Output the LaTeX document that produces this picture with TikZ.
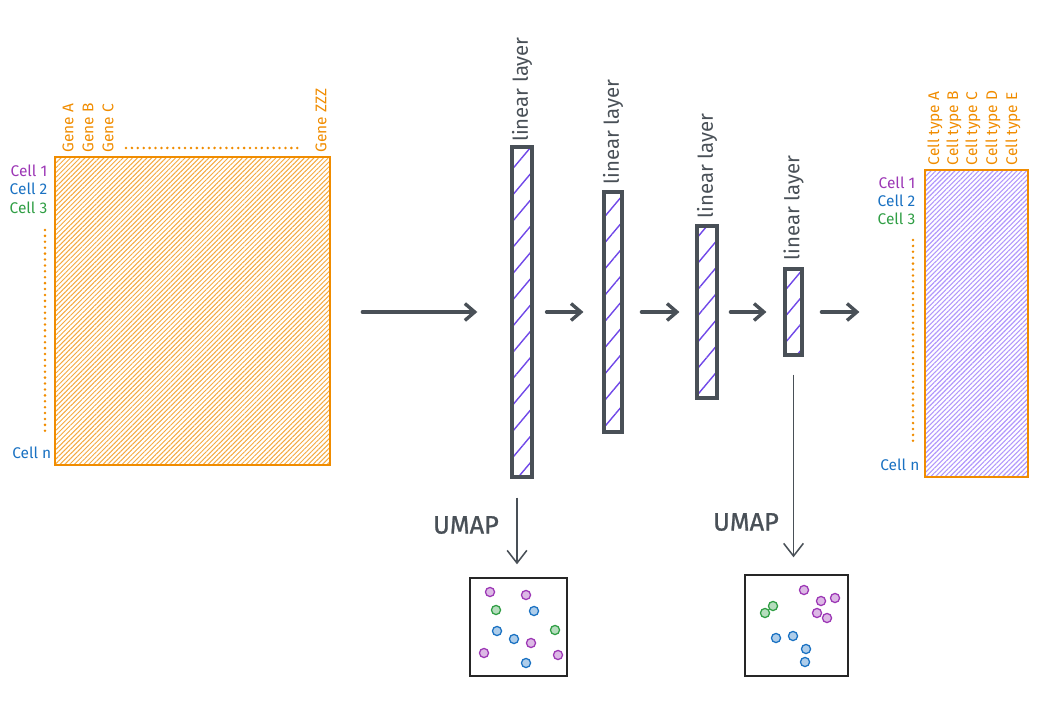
\documentclass[tikz,border=0pt]{standalone}
\usepackage{fontspec}
\setmainfont{Fira Sans}
\usetikzlibrary{arrows.meta,patterns.meta,positioning,calc}
\definecolor{ink}{HTML}{495057}
\definecolor{orng}{HTML}{F08C00}
\definecolor{violet}{HTML}{7048E8}
\definecolor{lilac}{HTML}{B197FC}
\definecolor{cellone}{HTML}{9C36B5}
\definecolor{celltwo}{HTML}{1971C2}
\definecolor{cellthree}{HTML}{2F9E44}

\tikzset{
  matrixbox/.style={draw=orng, line width=1pt, inner sep=0pt},
  layerbox/.style={draw=ink, line width=2.2pt, inner sep=0pt,
    pattern={Lines[angle=50,distance=12pt,line width=1pt]}, pattern color=violet},
  flow/.style={draw=ink, line width=2.6pt, line cap=round,
    -{Straight Barb[length=7pt,width=12pt,line width=2.4pt]}},
  umaparrow/.style={draw=ink, line width=1.1pt,
    -{Straight Barb[length=9pt,width=14pt]}},
  layerlabel/.style={rotate=90, anchor=west, text=ink, font=\fontsize{14.5}{14.5}\selectfont, inner sep=1pt},
  genelabel/.style={rotate=90, anchor=west, text=orng, font=\fontsize{11}{11}\selectfont, inner sep=1pt},
  celllabel/.style={anchor=east, font=\fontsize{11}{11}\selectfont, inner sep=1pt},
  umaplabel/.style={text=ink, font=\fontsize{18}{18}\selectfont\addfontfeatures{FakeBold=1}},
  dotrow/.style={orng, line width=2pt, dash pattern=on 0pt off 4.2pt, line cap=round},
  plotbox/.style={draw=black!85, line width=1pt, inner sep=0pt},
  dot/.style={circle, draw=#1, fill=#1!35, line width=0.9pt, minimum size=6.5pt, inner sep=0pt}
}

\begin{document}
\begin{tikzpicture}[x=0.025cm, y=-0.025cm]
  \useasboundingbox (0,0) rectangle (1044,701);

  % input expression matrix
  \node[matrixbox, minimum width=275*0.025cm, minimum height=308*0.025cm,
        pattern={Lines[angle=45,distance=2.4pt,line width=0.7pt]}, pattern color=orng!75]
        (genes) at (192.5,311) {};
  \node[genelabel] (gA) at (68,154) {Gene A};
  \node[genelabel] (gB) at (88,154) {Gene B};
  \node[genelabel] (gC) at (108,154) {Gene C};
  \node[genelabel] (gZ) at (321,154) {Gene ZZZ};
  \draw[dotrow] (126,148) -- (302,148);
  \node[celllabel, text=cellone] (c1) at (49,171) {Cell 1};
  \node[celllabel, text=celltwo] (c2) at (49,189) {Cell 2};
  \node[celllabel, text=cellthree] (c3) at (49,208) {Cell 3};
  \draw[dotrow] (45,230) -- (45,434);
  \node[celllabel, text=celltwo] (cn) at (53,453) {Cell n};

  % linear layers
  \node[layerbox, minimum width=20*0.025cm, minimum height=330*0.025cm] (l1) at (522,312) {};
  \node[layerbox, minimum width=18*0.025cm, minimum height=240*0.025cm] (l2) at (613,312) {};
  \node[layerbox, minimum width=20*0.025cm, minimum height=172*0.025cm] (l3) at (707,312) {};
  \node[layerbox, minimum width=17*0.025cm, minimum height=86*0.025cm] (l4) at (793.5,312) {};
  \node[layerlabel] at ([yshift=2pt]l1.north) {linear layer};
  \node[layerlabel] at ([yshift=3pt]l2.north) {linear layer};
  \node[layerlabel] at ([yshift=3pt]l3.north) {linear layer};
  \node[layerlabel] at ([yshift=4pt]l4.north) {linear layer};

  % output matrix
  \node[matrixbox, minimum width=103*0.025cm, minimum height=307*0.025cm,
        pattern={Lines[angle=45,distance=2.4pt,line width=0.8pt]}, pattern color=lilac]
        (types) at (976.5,323.5) {};
  \foreach \x/\t in {935/A, 954/B, 973/C, 993/D, 1013/E}
    \node[genelabel] at (\x,167) {Cell type \t};
  \node[celllabel, text=cellone] (o1) at (917,183) {Cell 1};
  \node[celllabel, text=celltwo] (o2) at (917,201) {Cell 2};
  \node[celllabel, text=cellthree] (o3) at (917,219) {Cell 3};
  \draw[dotrow] (913,240) -- (913,444);
  \node[celllabel, text=celltwo] (on) at (921,465) {Cell n};

  % forward arrows
  \draw[flow, shorten <=32*0.025cm, shorten >=34*0.025cm] (genes.east |- l1) -- (l1.west);
  \draw[flow, shorten <=14*0.025cm, shorten >=19*0.025cm] (l1.east) -- (l2.west);
  \draw[flow, shorten <=18*0.025cm, shorten >=16*0.025cm] (l2.east) -- (l3.west);
  \draw[flow, shorten <=12*0.025cm, shorten >=17*0.025cm] (l3.east) -- (l4.west);
  \draw[flow, shorten <=18*0.025cm, shorten >=65*0.025cm] (l4.east) -- (l4.east -| types.west);

  % UMAP projections
  \node[plotbox, minimum width=97*0.025cm, minimum height=98*0.025cm] (u1) at (518.5,627) {};
  \node[plotbox, minimum width=103*0.025cm, minimum height=101*0.025cm] (u2) at (796.5,625.5) {};
  \draw[umaparrow, shorten <=20*0.025cm, shorten >=13*0.025cm] (l1.south -| 517,0) -- (u1.north -| 517,0);
  \draw[umaparrow, shorten <=18*0.025cm, shorten >=17*0.025cm] (l4.south) -- (u2.north -| l4.south);
  \node[umaplabel] (lab1) at (466,525) {UMAP};
  \node[umaplabel] (lab2) at (746,522) {UMAP};

  \foreach \x/\y/\c in {490/592/cellone, 526/595/cellone, 496/610/cellthree, 534/611/celltwo,
      497/631/celltwo, 555/630/cellthree, 514/639/celltwo, 531/643/cellone,
      484/653/cellone, 558/655/cellone, 526/663/celltwo}
    \node[dot=\c] at (\x,\y) {};
  \foreach \x/\y/\c in {804/590/cellone, 821/601/cellone, 835/598/cellone, 817/613/cellone,
      827/618/cellone, 773/606/cellthree, 765/613/cellthree, 776/638/celltwo,
      793/636/celltwo, 806/649/celltwo, 805/662/celltwo}
    \node[dot=\c] at (\x,\y) {};
\end{tikzpicture}
\end{document}
